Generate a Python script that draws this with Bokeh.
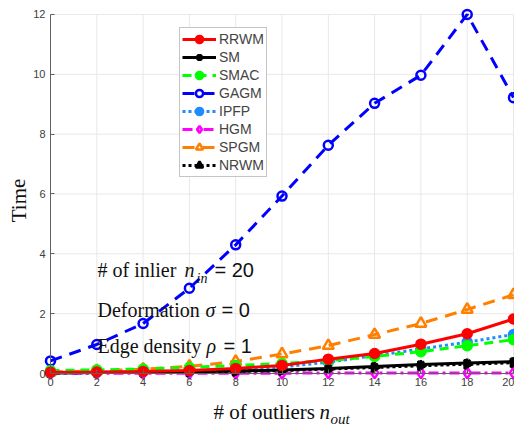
from bokeh.plotting import figure
from bokeh.models import Legend, LegendItem, Label, ColumnDataSource, FixedTicker, Range1d
from bokeh.embed import file_html
from bokeh.resources import INLINE

x_vals = [0, 2, 4, 6, 8, 10, 12, 14, 16, 18, 20]
rrwm = [0.04, 0.05, 0.07, 0.10, 0.17, 0.27, 0.48, 0.67, 0.98, 1.33, 1.82]
sm = [0.02, 0.03, 0.04, 0.06, 0.08, 0.12, 0.17, 0.23, 0.30, 0.35, 0.40]
smac = [0.10, 0.12, 0.15, 0.20, 0.27, 0.33, 0.43, 0.57, 0.73, 0.93, 1.13]
gagm = [0.42, 0.97, 1.67, 2.85, 4.30, 5.93, 7.63, 9.03, 9.97, 12.0, 9.22]
ipfp = [0.03, 0.04, 0.06, 0.09, 0.14, 0.22, 0.38, 0.60, 0.82, 1.05, 1.30]
hgm = [0.01, 0.01, 0.01, 0.01, 0.01, 0.01, 0.02, 0.02, 0.02, 0.02, 0.02]
spgm = [0.05, 0.09, 0.14, 0.24, 0.40, 0.65, 0.93, 1.30, 1.67, 2.14, 2.63]
nrwm = [0.02, 0.03, 0.04, 0.05, 0.07, 0.10, 0.15, 0.20, 0.26, 0.31, 0.36]

x_ticks = [0, 2, 4, 6, 8, 10, 12, 14, 16, 18, 20]
y_ticks = [0, 2, 4, 6, 8, 10, 12]

W, H = 514, 426
# the frame covers the whole canvas; axes sit at data 0 (fixed location)
KX, X0 = 23.15, 50.0     # px per unit, px of x=0
KY, Y0 = 29.92, 373.0    # px per unit, px of y=0
p = figure(width=W, height=H,
           x_range=Range1d(-X0 / KX, (W - X0) / KX),
           y_range=Range1d(-(H - Y0) / KY, Y0 / KY),
           output_backend="svg", toolbar_location=None,
           min_border_left=0, min_border_right=0, min_border_top=0, min_border_bottom=0)
p.outline_line_color = None
p.background_fill_color = "white"
p.border_fill_color = "white"
p.xgrid.visible = False
p.ygrid.visible = False

# light grid drawn from the tick arrays
gx = [t for t in x_ticks]
p.segment(x0=gx, x1=gx, y0=[y_ticks[0]] * len(gx), y1=[y_ticks[-1]] * len(gx),
          line_color="#e8e8e8", line_width=1, level="underlay")
gy = [t for t in y_ticks]
p.segment(x0=[x_ticks[0]] * len(gy), x1=[x_ticks[-1]] * len(gy), y0=gy, y1=gy,
          line_color="#e8e8e8", line_width=1, level="underlay")

for ax in (p.xaxis[0], p.yaxis[0]):
    ax.fixed_location = 0
    ax.axis_line_color = "#606060"
    ax.axis_line_width = 1
    ax.major_tick_in = 4
    ax.major_tick_out = 0
    ax.major_tick_line_color = "#606060"
    ax.minor_tick_line_color = None
    ax.major_label_text_font = "Liberation Sans"
    ax.major_label_text_font_size = "11px"
    ax.major_label_text_color = "#404040"
p.xaxis[0].ticker = FixedTicker(ticks=x_ticks)
p.yaxis[0].ticker = FixedTicker(ticks=y_ticks)
p.xaxis[0].bounds = (x_ticks[0], x_ticks[-1])
p.yaxis[0].bounds = (y_ticks[0], y_ticks[-1])
p.xaxis[0].major_label_standoff = 4
p.yaxis[0].major_label_standoff = 5

src = ColumnDataSource(dict(x=x_vals, rrwm=rrwm, sm=sm, smac=smac, gagm=gagm,
                            ipfp=ipfp, hgm=hgm, spgm=spgm, nrwm=nrwm))

def series(col, color, dash, marker, fill, lw=3, size=9, mlw=2.5):
    r1 = p.line("x", col, source=src, line_color=color, line_width=lw, line_dash=dash)
    r2 = p.scatter("x", col, source=src, marker=marker, size=size,
                   line_color=color, line_width=mlw,
                   fill_color=(color if fill else "white"), fill_alpha=(1 if fill else 0))
    return [r1, r2]

r_gagm = series("gagm", "#0000ff", "12 8", "circle", False, size=9)
r_hgm = series("hgm", "#ff00ff", "10 4 3 4", "diamond", False, size=11)
r_spgm = series("spgm", "#ff8000", "12 8", "triangle", False, size=11)
r_nrwm = series("nrwm", "#000000", "3 3", "triangle", True, size=9)
r_ipfp = series("ipfp", "#1e8cff", "3 3", "circle", True, size=9)
r_smac = series("smac", "#00ff00", "9 6", "circle", True, size=9)
r_sm = series("sm", "#000000", "solid", "asterisk", True, size=9)
r_rrwm = series("rrwm", "#ff0000", "solid", "circle", True, size=9)
r_nrwm[1].glyph.angle = -1.5708

items = [
    LegendItem(label="RRWM", renderers=r_rrwm),
    LegendItem(label="SM", renderers=r_sm),
    LegendItem(label="SMAC", renderers=r_smac),
    LegendItem(label="GAGM", renderers=r_gagm),
    LegendItem(label="IPFP", renderers=r_ipfp),
    LegendItem(label="HGM", renderers=r_hgm),
    LegendItem(label="SPGM", renderers=r_spgm),
    LegendItem(label="NRWM", renderers=r_nrwm),
]
leg = Legend(items=items, location=(179, 249), padding=2, spacing=0, margin=0,
             label_height=18, glyph_height=18, glyph_width=34, label_standoff=3,
             label_text_font="Liberation Sans", label_text_font_size="14px",
             label_text_baseline="middle",
             border_line_color="#8c8c8c", border_line_width=1,
             background_fill_color="white", background_fill_alpha=1)
p.add_layout(leg, "center")

def lab(text, px, py, font="Liberation Serif", size="20px", style="normal", angle=0,
        align="left", baseline="alphabetic"):
    # px, py: canvas pixels from the top-left corner
    p.add_layout(Label(x=px, y=H - py, x_units="screen", y_units="screen", text=text,
                       text_font=font, text_font_size=size, text_font_style=style,
                       text_color="#111111", angle=angle, text_align=align,
                       text_baseline=baseline))

lab("# of inlier", 97, 269)
lab("n", 184, 269, style="italic")
lab("in", 196, 278, size="14px", style="italic")
lab("= 20", 214, 269, font="Liberation Sans")
lab("Deformation", 97, 309)
lab("σ", 205, 309, style="italic")
lab("= 0", 221, 309, font="Liberation Sans")
lab("Edge density", 97, 345)
lab("ρ", 206, 345, style="italic")
lab("= 1", 223, 345, font="Liberation Sans")

lab("# of outliers", 213, 411, size="21px")
lab("n", 319, 411, size="21px", style="italic")
lab("out", 330, 418, size="15px", style="italic")
lab("Time", 18, 200, size="21px", angle=1.5708, align="center", baseline="middle")

open("out.html", "w").write(file_html(p, INLINE))
